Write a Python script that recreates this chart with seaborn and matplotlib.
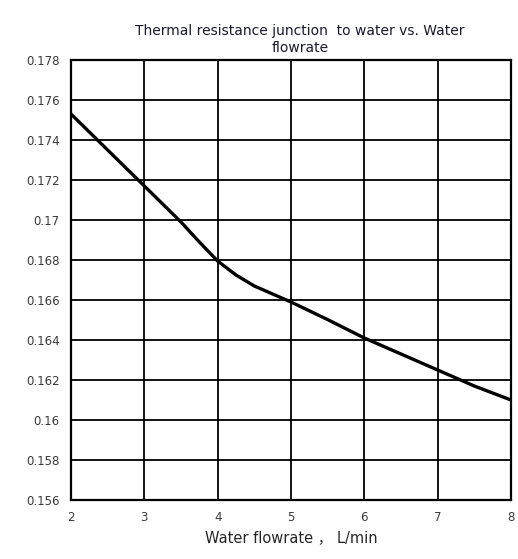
import matplotlib
matplotlib.use("Agg")
import matplotlib.pyplot as plt
import seaborn as sns
import pandas as pd

flow = [2, 2.5, 3, 3.5, 3.75, 4, 4.25, 4.5, 4.75, 5, 5.5, 6, 6.5, 7, 7.5, 8]
resistance = [0.1753, 0.1735, 0.1717, 0.1699, 0.1689, 0.16795, 0.16725, 0.1667,
              0.1663, 0.1659, 0.16502, 0.1641, 0.1633, 0.1625, 0.1617, 0.1610]
x_ticks = [2, 3, 4, 5, 6, 7, 8]
y_ticks = [0.156, 0.158, 0.16, 0.162, 0.164, 0.166, 0.168, 0.17, 0.172, 0.174, 0.176, 0.178]
y_labels = ["0.156", "0.158", "0.16", "0.162", "0.164", "0.166", "0.168", "0.17",
            "0.172", "0.174", "0.176", "0.178"]

sns.set_style("white")
plt.rcParams['font.family'] = ['DejaVu Sans', 'Noto Sans CJK SC']

df = pd.DataFrame({"flow": flow, "res": resistance})
fig = plt.figure(figsize=(5.18, 5.59), dpi=100)
ax = fig.add_axes([0.137, 0.1055, 0.8495, 0.7872])

sns.lineplot(data=df, x="flow", y="res", ax=ax, color="black", linewidth=2.4,
             zorder=3, solid_joinstyle="round", solid_capstyle="round")

ax.set_xlim(2, 8)
ax.set_ylim(0.156, 0.178)
ax.set_xticks(x_ticks)
ax.set_xticklabels([str(t) for t in x_ticks])
ax.set_yticks(y_ticks)
ax.set_yticklabels(y_labels)
ax.grid(True, color="black", linewidth=1.3)
ax.tick_params(axis="both", length=0, labelsize=8.5, colors="#3a3a3a", pad=8)
for s in ax.spines.values():
    s.set_color("black")
    s.set_linewidth(1.6)

ax.set_xlabel("Water flowrate ， L/min", fontsize=10.5, labelpad=4)
ax.set_ylabel("")
ax.set_title("Thermal resistance junction  to water vs. Water\nflowrate",
             fontsize=10, color="#1a1a2e", pad=6, x=0.52)

fig.savefig("out.png", dpi=100)
